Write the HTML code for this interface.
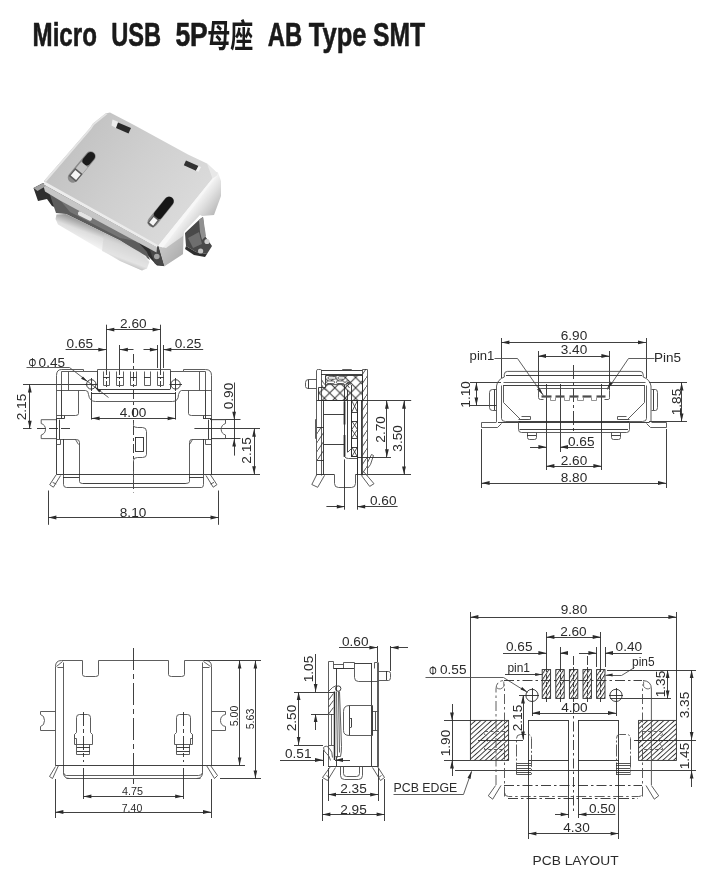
<!DOCTYPE html>
<html lang="zh"><head><meta charset="utf-8"><title>Micro USB 5P AB Type SMT</title>
<style>
html,body{margin:0;padding:0;background:#fff;}
body{width:715px;height:884px;overflow:hidden;font-family:"Liberation Sans","Noto Sans CJK SC",sans-serif;}
svg{display:block;filter:grayscale(1);}
</style></head><body>
<svg width="715" height="884" viewBox="0 0 715 884" font-family="Liberation Sans, Noto Sans CJK SC, sans-serif" stroke="#2b2b2b" fill="none" stroke-linecap="butt">
<rect x="0" y="0" width="715" height="884" fill="#ffffff" stroke="none"/>
<g id="title">
<text x="32.6" y="45.7" font-size="34" font-weight="bold" textLength="64.3" lengthAdjust="spacingAndGlyphs" fill="#1a1a1a" stroke="#1a1a1a" stroke-width="0.6" stroke-linejoin="round">Micro</text>
<text x="111.2" y="45.7" font-size="34" font-weight="bold" textLength="49.9" lengthAdjust="spacingAndGlyphs" fill="#1a1a1a" stroke="#1a1a1a" stroke-width="0.6" stroke-linejoin="round">USB</text>
<text x="175.4" y="45.7" font-size="34" font-weight="bold" textLength="32.4" lengthAdjust="spacingAndGlyphs" fill="#1a1a1a" stroke="#1a1a1a" stroke-width="0.6" stroke-linejoin="round">5P</text>
<text x="207.2" y="46.8" font-size="32" font-weight="700" textLength="46" lengthAdjust="spacingAndGlyphs" font-family="Liberation Sans, Noto Sans CJK SC, sans-serif" fill="#1a1a1a" stroke="none">母座</text>
<text x="267.8" y="45.7" font-size="34" font-weight="bold" textLength="34.4" lengthAdjust="spacingAndGlyphs" fill="#1a1a1a" stroke="#1a1a1a" stroke-width="0.6" stroke-linejoin="round">AB</text>
<text x="308.8" y="45.7" font-size="34" font-weight="bold" textLength="57.8" lengthAdjust="spacingAndGlyphs" fill="#1a1a1a" stroke="#1a1a1a" stroke-width="0.6" stroke-linejoin="round">Type</text>
<text x="373.0" y="45.7" font-size="34" font-weight="bold" textLength="52.2" lengthAdjust="spacingAndGlyphs" fill="#1a1a1a" stroke="#1a1a1a" stroke-width="0.6" stroke-linejoin="round">SMT</text>
</g>
<defs>
<filter id="pb" x="-5%" y="-5%" width="110%" height="110%"><feGaussianBlur stdDeviation="0.55"/></filter>
<linearGradient id="gtop" gradientUnits="userSpaceOnUse" x1="70" y1="140" x2="190" y2="230"><stop offset="0" stop-color="#c2c2c2"/><stop offset="0.45" stop-color="#cfcfcf"/><stop offset="1" stop-color="#dcdcdc"/></linearGradient>
<linearGradient id="gside" gradientUnits="userSpaceOnUse" x1="186" y1="212" x2="212" y2="232"><stop offset="0" stop-color="#f8f8f8"/><stop offset="0.3" stop-color="#e0e0e0"/><stop offset="0.7" stop-color="#bcbcbc"/><stop offset="1" stop-color="#9c9c9c"/></linearGradient>
<linearGradient id="gtong" gradientUnits="userSpaceOnUse" x1="100" y1="228" x2="91" y2="252"><stop offset="0" stop-color="#9c9c9c"/><stop offset="0.35" stop-color="#dedede"/><stop offset="0.8" stop-color="#f6f6f6"/><stop offset="1" stop-color="#b8b8b8"/></linearGradient>
</defs>
<g id="photo" filter="url(#pb)">
<polygon points="212.0,177.0 218.0,172.5 221.0,181.0 221.0,196.0 214.0,215.0 202.0,216.0 200.0,215.0 184.0,232.0 183.0,254.0 164.0,266.5 158.0,262.0 157.0,246.0" fill="url(#gside)" stroke="none" />
<polygon points="157.0,246.0 166.0,248.0 183.0,236.0 183.0,254.0 164.0,266.5 158.0,262.0" fill="#a6a6a6" stroke="none" opacity="0.6"/>
<polygon points="185.0,233.0 200.0,219.0 203.0,217.0 205.0,236.0 212.0,246.0 207.0,254.0 196.0,252.0 186.0,246.0" fill="#484848" stroke="none" />
<polygon points="199.0,220.0 203.0,217.0 206.0,236.0 202.0,240.0 200.0,232.0" fill="#909090" stroke="none" />
<polygon points="188.0,238.0 199.0,232.0 202.0,244.0 193.0,248.0" fill="#6e6e6e" stroke="none" />
<polygon points="186.0,246.0 196.0,252.0 207.0,254.0 205.0,257.0 194.0,255.0 185.0,249.0" fill="#2e2e2e" stroke="none" />
<circle cx="207" cy="241.5" r="2.6" fill="#cdcdcd" stroke="none"/>
<circle cx="200.6" cy="251" r="2.6" fill="#c4c4c4" stroke="none"/>
<polygon points="33.5,188.0 42.0,183.5 45.5,183.0 158.0,245.0 164.0,266.0 157.0,265.5 150.0,258.0 140.0,246.0 66.0,212.0 52.0,206.0 47.0,199.0 38.0,201.0" fill="#2e2e2e" stroke="none" />
<polygon points="49.0,192.0 136.0,240.0 147.0,252.0 150.0,260.0 120.0,240.5 66.0,214.0 56.0,213.0" fill="#5c5c5c" stroke="none" />
<polygon points="60.0,200.0 120.0,231.0 136.0,241.0 120.0,238.0 70.0,212.0" fill="#7a7a7a" stroke="none" opacity="0.8"/>
<line x1="80" y1="213.5" x2="90" y2="218.5" stroke="#e4e4e4" stroke-width="4.2" stroke-linecap="round"/>
<polygon points="56.5,214.6 66.0,214.0 120.0,240.5 146.0,256.0 149.5,262.0 147.0,268.5 142.0,270.5 120.0,261.0 58.0,224.5 55.5,219.0" fill="url(#gtong)" stroke="none" stroke="#a0a0a0" stroke-width="0.9"/>
<polygon points="104.0,234.0 140.0,252.0 149.0,262.0 147.0,268.5 141.0,270.0 102.0,251.0" fill="#cfcfcf" stroke="none" opacity="0.45"/>
<polygon points="148.0,244.5 158.0,246.0 164.0,266.0 155.0,264.0" fill="#474747" stroke="none" />
<circle cx="156.8" cy="256.5" r="2.8" fill="#a4a4a4" stroke="none"/>
<polygon points="105.5,113.5 110.0,112.6 134.0,125.0 188.0,154.5 207.0,163.5 215.5,171.5 212.5,178.5 158.0,246.0 45.5,183.5 44.0,181.0 90.0,128.0 93.0,123.5" fill="url(#gtop)" stroke="none" />
<polygon points="105.5,113.5 107.5,114.0 94.0,125.0 91.0,129.5 46.0,182.0 44.0,181.0 90.0,128.0 93.0,123.5" fill="#e4e4e4" stroke="none" />
<polygon points="212.5,178.5 217.0,175.5 163.0,247.5 158.0,246.0" fill="#f7f7f7" stroke="none" />
<polygon points="207.0,163.5 215.5,171.5 218.0,172.5 217.0,175.5 212.5,178.5" fill="#e8e8e8" stroke="none" />
<polygon points="43.0,184.3 157.0,247.3 156.5,252.5 60.0,200.5 45.0,191.5" fill="#c6c6c6" stroke="none" />
<polygon points="43.0,184.2 45.5,182.0 158.0,245.0 157.0,247.5" fill="#ececec" stroke="none" />
<polygon points="33.5,188.0 42.5,183.5 46.0,186.0 37.5,191.0" fill="#a0a0a0" stroke="none" />
<polygon points="112.5,119.5 118.5,122.0 116.0,128.0 111.5,125.5" fill="#ececec" stroke="none" />
<polygon points="118.0,122.5 131.0,128.0 128.5,133.5 116.0,128.0" fill="#2a2a2a" stroke="none" />
<polygon points="186.0,160.5 198.5,166.0 196.0,170.7 183.8,165.2" fill="#303030" stroke="none" />
<polygon points="198.5,166.0 201.0,167.0 198.5,171.8 196.0,170.7" fill="#efefef" stroke="none" />
<line x1="90.5" y1="156.5" x2="73" y2="177.5" stroke="#8a8a8a" stroke-width="10.5" stroke-linecap="round"/>
<line x1="90.8" y1="156.2" x2="86.6" y2="161.3" stroke="#1f1f1f" stroke-width="8.6" stroke-linecap="round"/>
<line x1="84.5" y1="164.5" x2="75" y2="176" stroke="#c4c4c4" stroke-width="8.4" stroke-linecap="butt"/>
<line x1="79" y1="171" x2="72.4" y2="179" stroke="#5a5a5a" stroke-width="9.4" stroke-linecap="butt"/>
<line x1="78" y1="172.3" x2="73.4" y2="177.8" stroke="#f4f4f4" stroke-width="7" stroke-linecap="butt"/>
<line x1="169" y1="201.5" x2="152.5" y2="222" stroke="#8a8a8a" stroke-width="10" stroke-linecap="round"/>
<line x1="169.2" y1="201.2" x2="158.2" y2="214.8" stroke="#161616" stroke-width="9" stroke-linecap="round"/>
<line x1="156.6" y1="217.5" x2="150.2" y2="225.3" stroke="#5a5a5a" stroke-width="7.4" stroke-linecap="butt"/>
<line x1="155.6" y1="218.7" x2="151.2" y2="224.1" stroke="#f6f6f6" stroke-width="5" stroke-linecap="butt"/>
</g>
<defs>
<pattern id="xh" x="2" y="3" width="10.4" height="10.4" patternUnits="userSpaceOnUse"><path d="M0 0 L10.4 10.4 M10.4 0 L0 10.4" stroke="#2b2b2b" stroke-width="0.95"/></pattern>
<pattern id="dh" width="6" height="9" patternUnits="userSpaceOnUse"><path d="M-1 10.5 L7 -1.5" stroke="#2b2b2b" stroke-width="0.8"/></pattern>
<pattern id="ph" width="3.6" height="3.6" patternUnits="userSpaceOnUse" patternTransform="rotate(48)"><line x1="0.5" y1="0" x2="0.5" y2="3.6" stroke="#2b2b2b" stroke-width="0.9"/></pattern>
<pattern id="ph2" width="3.1" height="3.1" patternUnits="userSpaceOnUse" patternTransform="rotate(33)"><line x1="0.5" y1="0" x2="0.5" y2="3.1" stroke="#2b2b2b" stroke-width="0.9"/></pattern>
</defs>
<g id="v2">
<path d="M316.5 475.5 V370.5 Q316.5 369.5 318.5 369.5 H320.5 Q321.5 369.5 321.5 370.5 V475.5" stroke-width="0.9" fill="none" stroke="#4c4c4c"/>
<path d="M362.5 475.5 V369.5 H367.5 V475.5" stroke-width="0.9" fill="none" stroke="#4c4c4c"/>
<rect x="362.3" y="369" width="4.9" height="106" fill="url(#dh)" stroke="none"/>
<line x1="321.0" y1="370.5" x2="362.3" y2="370.5" stroke-width="0.9"/>
<line x1="321.0" y1="374.5" x2="362.3" y2="374.5" stroke-width="0.9"/>
<path d="M342.5 370.5 V369.5 H351.5 V370.5" stroke-width="0.9" fill="none" stroke="#4c4c4c"/>
<path d="M325.5 375.5 H362.5 V400.5 H318.5 V387.5 H325.5 Z" fill="url(#xh)" stroke="#2b2b2b" stroke-width="0.9"/>
<rect x="328" y="376.7" width="8" height="2.5" rx="1.25" fill="#fff" stroke="#2b2b2b" stroke-width="0.7"/>
<rect x="338" y="376.7" width="7" height="2.5" rx="1.25" fill="#fff" stroke="#2b2b2b" stroke-width="0.7"/>
<rect x="326.6" y="381" width="8" height="2.5" rx="1.25" fill="#fff" stroke="#2b2b2b" stroke-width="0.7"/>
<rect x="336.4" y="381" width="8" height="2.5" rx="1.25" fill="#fff" stroke="#2b2b2b" stroke-width="0.7"/>
<rect x="345.6" y="381" width="4" height="2.5" rx="1.25" fill="#fff" stroke="#2b2b2b" stroke-width="0.7"/>
<path d="M325.5 384.6 H345 Q348.5 385 349.5 388" stroke-width="0.9" fill="none" stroke="#4c4c4c"/>
<rect x="351.5" y="400.5" width="6.0" height="56.0" rx="0" stroke-width="0.9" fill="none"/>
<line x1="351.8" y1="400.5" x2="357.4" y2="400.5" stroke-width="0.9"/>
<line x1="351.8" y1="412.5" x2="357.4" y2="412.5" stroke-width="0.9"/>
<line x1="351.8" y1="400.7" x2="357.4" y2="412.0" stroke-width="0.8"/>
<line x1="357.4" y1="400.7" x2="351.8" y2="412.0" stroke-width="0.8"/>
<line x1="351.8" y1="421.5" x2="357.4" y2="421.5" stroke-width="0.9"/>
<line x1="351.8" y1="438.5" x2="357.4" y2="438.5" stroke-width="0.9"/>
<line x1="351.8" y1="421.0" x2="357.4" y2="429.5" stroke-width="0.8"/>
<line x1="357.4" y1="421.0" x2="351.8" y2="429.5" stroke-width="0.8"/>
<line x1="351.8" y1="429.5" x2="357.4" y2="438.0" stroke-width="0.8"/>
<line x1="357.4" y1="429.5" x2="351.8" y2="438.0" stroke-width="0.8"/>
<line x1="351.8" y1="447.5" x2="357.4" y2="447.5" stroke-width="0.9"/>
<line x1="351.8" y1="456.5" x2="357.4" y2="456.5" stroke-width="0.9"/>
<line x1="351.8" y1="447.0" x2="357.4" y2="456.8" stroke-width="0.8"/>
<line x1="357.4" y1="447.0" x2="351.8" y2="456.8" stroke-width="0.8"/>
<path d="M316.5 379.5 H308.5 Q305.5 379.5 305.5 382.5 V386.5 Q305.5 388.5 308.5 388.5 H316.5" stroke-width="0.9" fill="none" stroke="#4c4c4c"/>
<line x1="308.5" y1="379.6" x2="308.5" y2="388.8" stroke-width="0.9"/>
<path d="M321.5 379.5 Q323.5 384.5 326.5 385.5 M321.5 384.5 Q323.5 389.5 326.5 390.5" stroke-width="0.9" fill="none" stroke="#4c4c4c"/>
<line x1="316.7" y1="400.5" x2="346.0" y2="400.5" stroke-width="0.9"/>
<line x1="323.5" y1="400.7" x2="323.5" y2="475.0" stroke-width="0.9"/>
<line x1="323.8" y1="414.5" x2="344.8" y2="414.5" stroke-width="0.9"/>
<line x1="323.8" y1="444.5" x2="344.8" y2="444.5" stroke-width="0.9"/>
<line x1="344.5" y1="401.4" x2="344.5" y2="424.5" stroke-width="1.8"/>
<line x1="344.5" y1="435.0" x2="344.5" y2="456.8" stroke-width="1.8"/>
<line x1="344.5" y1="385.0" x2="344.5" y2="457.0" stroke-width="0.9"/>
<line x1="347.5" y1="390.0" x2="347.5" y2="452.0" stroke-width="0.9"/>
<line x1="351.5" y1="385.0" x2="351.5" y2="456.8" stroke-width="0.9"/>
<path d="M346.5 384.5 Q348.5 380.5 350.5 384.5" stroke-width="1.3" fill="none" stroke="#4c4c4c"/>
<path d="M344.5 456.5 Q345.5 458.5 348.5 458.5 H357.5" stroke-width="0.9" fill="none" stroke="#4c4c4c"/>
<path d="M347.5 452.5 L351.5 448.5" stroke-width="0.9" fill="none" stroke="#4c4c4c"/>
<line x1="357.5" y1="400.7" x2="357.5" y2="475.0" stroke-width="0.9"/>
<line x1="361.5" y1="400.7" x2="361.5" y2="475.0" stroke-width="0.9"/>
<rect x="317" y="427.3" width="6.8" height="33" fill="url(#dh)" stroke="none"/>
<line x1="317.0" y1="427.5" x2="323.8" y2="427.5" stroke-width="0.9"/>
<line x1="317.0" y1="460.5" x2="323.8" y2="460.5" stroke-width="0.9"/>
<path d="M316.5 419.5 H315.5 V438.5 H316.5" stroke-width="0.9" fill="none" stroke="#4c4c4c"/>
<line x1="316.7" y1="474.5" x2="334.4" y2="474.5" stroke-width="0.9"/>
<line x1="355.4" y1="474.5" x2="367.2" y2="474.5" stroke-width="0.9"/>
<path d="M334.5 474.5 V483.5 Q334.5 487.5 338.5 487.5 H351.5 Q355.5 487.5 355.5 483.5 V474.5" stroke-width="0.9" fill="none" stroke="#4c4c4c"/>
<path d="M316.8 474.5 L311.8 484.5 L317.7 487.3 L324.6 475.3" stroke-width="0.9" fill="none" stroke="#4c4c4c"/>
<path d="M361.3 475.3 L369.7 486.4 L374 483.7 L363.5 471.5" stroke-width="0.9" fill="none" stroke="#4c4c4c"/>
<path d="M367.5 462.5 L371.5 454.5 L373.5 455.5 L370.5 464.5 L367.5 468.5" stroke-width="0.9" fill="none" stroke="#4c4c4c"/>
<line x1="361.0" y1="400.5" x2="411.2" y2="400.5" stroke-width="0.9"/>
<line x1="358.0" y1="457.5" x2="391.0" y2="457.5" stroke-width="0.9"/>
<line x1="368.0" y1="474.5" x2="411.0" y2="474.5" stroke-width="0.9"/>
<line x1="386.5" y1="400.7" x2="386.5" y2="457.2" stroke-width="0.9"/>
<polygon points="386.9,400.7 388.8,408.7 385.0,408.7" fill="#2b2b2b" stroke="none"/>
<polygon points="386.9,457.2 385.0,449.2 388.8,449.2" fill="#2b2b2b" stroke="none"/>
<line x1="404.5" y1="400.7" x2="404.5" y2="474.6" stroke-width="0.9"/>
<polygon points="404.0,400.7 405.9,408.7 402.1,408.7" fill="#2b2b2b" stroke="none"/>
<polygon points="404.0,474.6 402.1,466.6 405.9,466.6" fill="#2b2b2b" stroke="none"/>
<text x="385.5" y="429.4" font-size="13.6" text-anchor="middle" textLength="26.5" lengthAdjust="spacingAndGlyphs" transform="rotate(-90 385.5 429.4)" fill="#2b2b2b" stroke="none">2.70</text>
<text x="402.5" y="438.4" font-size="13.6" text-anchor="middle" textLength="26.5" lengthAdjust="spacingAndGlyphs" transform="rotate(-90 402.5 438.4)" fill="#2b2b2b" stroke="none">3.50</text>
<line x1="344.5" y1="459.4" x2="344.5" y2="509.7" stroke-width="0.9"/>
<line x1="357.5" y1="457.0" x2="357.5" y2="509.7" stroke-width="0.9"/>
<line x1="326.4" y1="506.5" x2="344.8" y2="506.5" stroke-width="0.9"/>
<polygon points="344.8,506.7 336.8,508.6 336.8,504.8" fill="#2b2b2b" stroke="none"/>
<polygon points="357.2,506.7 365.2,504.8 365.2,508.6" fill="#2b2b2b" stroke="none"/>
<line x1="357.2" y1="506.5" x2="397.6" y2="506.5" stroke-width="0.9"/>
<text x="370.0" y="504.7" font-size="13.6" textLength="26.5" lengthAdjust="spacingAndGlyphs" fill="#2b2b2b" stroke="none">0.60</text>
</g>
<g id="v3">
<text x="574.0" y="340.4" font-size="13.6" text-anchor="middle" textLength="26.5" lengthAdjust="spacingAndGlyphs" fill="#2b2b2b" stroke="none">6.90</text>
<line x1="501.4" y1="342.5" x2="646.0" y2="342.5" stroke-width="0.9"/>
<polygon points="501.4,342.4 509.4,340.5 509.4,344.2" fill="#2b2b2b" stroke="none"/>
<polygon points="646.0,342.4 638.0,344.2 638.0,340.5" fill="#2b2b2b" stroke="none"/>
<line x1="501.5" y1="338.0" x2="501.5" y2="378.0" stroke-width="0.9"/>
<line x1="646.5" y1="338.0" x2="646.5" y2="378.0" stroke-width="0.9"/>
<text x="574.0" y="354.2" font-size="13.6" text-anchor="middle" textLength="26.5" lengthAdjust="spacingAndGlyphs" fill="#2b2b2b" stroke="none">3.40</text>
<line x1="538.0" y1="356.5" x2="609.4" y2="356.5" stroke-width="0.9"/>
<polygon points="538.0,356.0 546.0,354.1 546.0,357.9" fill="#2b2b2b" stroke="none"/>
<polygon points="609.4,356.0 601.4,357.9 601.4,354.1" fill="#2b2b2b" stroke="none"/>
<line x1="538.5" y1="351.0" x2="538.5" y2="390.0" stroke-width="0.9"/>
<line x1="609.5" y1="351.0" x2="609.5" y2="390.0" stroke-width="0.9"/>
<text x="469.6" y="360.0" font-size="13.6" textLength="24.8" lengthAdjust="spacingAndGlyphs" fill="#2b2b2b" stroke="none">pin1</text>
<path d="M494.5 358.5 H517.5 L543.5 395.5" stroke-width="0.9" fill="none" stroke="#4c4c4c"/>
<polygon points="543.0,395.0 537.1,389.4 539.7,387.5" fill="#2b2b2b" stroke="none"/>
<text x="654.0" y="361.6" font-size="13.6" textLength="27.0" lengthAdjust="spacingAndGlyphs" fill="#2b2b2b" stroke="none">Pin5</text>
<path d="M654.5 358.5 H628.5 L607.5 389.5" stroke-width="0.9" fill="none" stroke="#4c4c4c"/>
<polygon points="607.0,389.0 610.1,381.5 612.8,383.3" fill="#2b2b2b" stroke="none"/>
<line x1="470.0" y1="382.5" x2="501.0" y2="382.5" stroke-width="0.9"/>
<line x1="470.0" y1="405.5" x2="497.0" y2="405.5" stroke-width="0.9"/>
<line x1="476.5" y1="382.4" x2="476.5" y2="405.4" stroke-width="0.9"/>
<polygon points="476.4,382.4 478.2,390.4 474.5,390.4" fill="#2b2b2b" stroke="none"/>
<polygon points="476.4,405.4 474.5,397.4 478.2,397.4" fill="#2b2b2b" stroke="none"/>
<text x="469.9" y="394.4" font-size="13.6" text-anchor="middle" textLength="26.5" lengthAdjust="spacingAndGlyphs" transform="rotate(-90 469.9 394.4)" fill="#2b2b2b" stroke="none">1.10</text>
<line x1="649.0" y1="382.5" x2="687.0" y2="382.5" stroke-width="0.9"/>
<line x1="649.0" y1="421.5" x2="687.0" y2="421.5" stroke-width="0.9"/>
<line x1="681.5" y1="382.4" x2="681.5" y2="421.6" stroke-width="0.9"/>
<polygon points="681.6,382.4 683.5,390.4 679.8,390.4" fill="#2b2b2b" stroke="none"/>
<polygon points="681.6,421.6 679.8,413.6 683.5,413.6" fill="#2b2b2b" stroke="none"/>
<text x="680.5" y="402.0" font-size="13.6" text-anchor="middle" textLength="26.5" lengthAdjust="spacingAndGlyphs" transform="rotate(-90 680.5 402.0)" fill="#2b2b2b" stroke="none">1.85</text>
<line x1="481.5" y1="429.0" x2="481.5" y2="488.0" stroke-width="0.9"/>
<line x1="666.5" y1="429.0" x2="666.5" y2="488.0" stroke-width="0.9"/>
<line x1="481.6" y1="483.5" x2="666.0" y2="483.5" stroke-width="0.9"/>
<polygon points="481.6,483.0 489.6,481.1 489.6,484.9" fill="#2b2b2b" stroke="none"/>
<polygon points="666.0,483.0 658.0,484.9 658.0,481.1" fill="#2b2b2b" stroke="none"/>
<text x="574.0" y="481.9" font-size="13.6" text-anchor="middle" textLength="26.5" lengthAdjust="spacingAndGlyphs" fill="#2b2b2b" stroke="none">8.80</text>
<line x1="546.5" y1="384.0" x2="546.5" y2="470.0" stroke-width="0.9"/>
<line x1="601.5" y1="384.0" x2="601.5" y2="470.0" stroke-width="0.9"/>
<line x1="546.4" y1="466.5" x2="601.4" y2="466.5" stroke-width="0.9"/>
<polygon points="546.4,466.0 554.4,464.1 554.4,467.9" fill="#2b2b2b" stroke="none"/>
<polygon points="601.4,466.0 593.4,467.9 593.4,464.1" fill="#2b2b2b" stroke="none"/>
<text x="574.0" y="465.2" font-size="13.6" text-anchor="middle" textLength="26.5" lengthAdjust="spacingAndGlyphs" fill="#2b2b2b" stroke="none">2.60</text>
<line x1="530.0" y1="447.5" x2="546.4" y2="447.5" stroke-width="0.9"/>
<polygon points="546.4,447.0 538.4,448.9 538.4,445.1" fill="#2b2b2b" stroke="none"/>
<polygon points="560.0,447.0 568.0,445.1 568.0,448.9" fill="#2b2b2b" stroke="none"/>
<line x1="560.0" y1="447.5" x2="594.0" y2="447.5" stroke-width="0.9"/>
<text x="568.0" y="445.6" font-size="13.6" textLength="26.5" lengthAdjust="spacingAndGlyphs" fill="#2b2b2b" stroke="none">0.65</text>
<line x1="560.5" y1="384.0" x2="560.5" y2="452.0" stroke-width="0.9"/>
<line x1="573.5" y1="365.0" x2="573.5" y2="432.0" stroke-width="0.9" stroke-dasharray="14 3 3 3"/>
<path d="M507.5 371.4 H640 Q643.2 371.4 643.2 374.5 V377 Q650 379.5 651 386 V421.9" stroke-width="0.9" fill="none" stroke="#4c4c4c"/>
<path d="M507.5 371.4 Q504.3 371.4 504.3 374.5 V377 Q497.5 379.5 496.5 386 V421.9" stroke-width="0.9" fill="none" stroke="#4c4c4c"/>
<line x1="506.0" y1="375.5" x2="642.0" y2="375.5" stroke-width="0.9"/>
<path d="M503.5 382.5 H645.5" stroke-width="0.9" fill="none" stroke="#4c4c4c"/>
<line x1="503.0" y1="385.5" x2="645.0" y2="385.5" stroke-width="0.9"/>
<path d="M501.5 385.5 V418.5 Q501.5 421.5 505.5 421.5 H520.5" stroke-width="0.9" fill="none" stroke="#4c4c4c"/>
<path d="M646.5 385.5 V418.5 Q646.5 421.5 642.5 421.5 H627.5" stroke-width="0.9" fill="none" stroke="#4c4c4c"/>
<path d="M503.5 385.5 V402.5 L520.5 419.5 H528.5" stroke-width="0.9" fill="none" stroke="#4c4c4c"/>
<path d="M644.5 385.5 V402.5 L627.5 419.5 H619.5" stroke-width="0.9" fill="none" stroke="#4c4c4c"/>
<path d="M518.5 419.5 H530.5 V416.5 H521.5" stroke-width="0.9" fill="none" stroke="#4c4c4c"/>
<path d="M629.5 419.5 H617.5 V416.5 H626.5" stroke-width="0.9" fill="none" stroke="#4c4c4c"/>
<path d="M496.5 389.5 H492.5 Q489.5 389.5 489.5 392.5 V407.5 Q489.5 410.5 492.5 410.5 H496.5" stroke-width="0.9" fill="none" stroke="#4c4c4c"/>
<line x1="494.5" y1="389.5" x2="494.5" y2="410.0" stroke-width="0.9"/>
<path d="M651.5 389.5 H655.5 Q657.5 389.5 657.5 392.5 V407.5 Q657.5 410.5 655.5 410.5 H651.5" stroke-width="0.9" fill="none" stroke="#4c4c4c"/>
<line x1="653.5" y1="389.5" x2="653.5" y2="410.0" stroke-width="0.9"/>
<path d="M496.5 422.5 H481.5 V427.5 H497.5 L501.5 423.5" stroke-width="0.9" fill="none" stroke="#4c4c4c"/>
<path d="M651.5 422.5 H666.5 V427.5 H650.5 L646.5 423.5" stroke-width="0.9" fill="none" stroke="#4c4c4c"/>
<line x1="518.6" y1="421.5" x2="629.0" y2="421.5" stroke-width="0.9"/>
<line x1="498.0" y1="422.5" x2="649.5" y2="422.5" stroke-width="0.9"/>
<path d="M518.5 421.5 V429.5 Q518.5 432.5 521.5 432.5 H626.5 Q629.5 432.5 629.5 429.5 V421.5" stroke-width="0.9" fill="none" stroke="#4c4c4c"/>
<line x1="519.5" y1="429.5" x2="628.0" y2="429.5" stroke-width="0.9"/>
<path d="M527.5 432.5 V437.5 Q527.5 439.5 529.5 439.5 H534.5 Q536.5 439.5 536.5 437.5 V432.5" stroke-width="0.9" fill="none" stroke="#4c4c4c"/>
<path d="M611.5 432.5 V437.5 Q611.5 439.5 613.5 439.5 H618.5 Q620.5 439.5 620.5 437.5 V432.5" stroke-width="0.9" fill="none" stroke="#4c4c4c"/>
<line x1="527.0" y1="435.5" x2="536.0" y2="435.5" stroke-width="0.9"/>
<line x1="611.5" y1="435.5" x2="620.5" y2="435.5" stroke-width="0.9"/>
<path d="M609.5 388.5 H540.5 Q538.5 388.5 538.5 390.5 V397.5 Q538.5 399.5 540.5 399.5 H543.5" stroke-width="0.9" fill="none" stroke="#4c4c4c"/>
<path d="M609.5 388.5 Q609.5 388.5 609.5 390.5 V397.5 Q609.5 399.5 608.5 399.5 H604.5" stroke-width="0.9" fill="none" stroke="#4c4c4c"/>
<path d="M541.5 396.5 H551.5" stroke-width="2.2" fill="none" stroke="#4c4c4c"/>
<path d="M555.5 396.5 H564.5" stroke-width="2.2" fill="none" stroke="#4c4c4c"/>
<path d="M569.5 396.5 H578.5" stroke-width="2.2" fill="none" stroke="#4c4c4c"/>
<path d="M582.5 396.5 H591.5" stroke-width="2.2" fill="none" stroke="#4c4c4c"/>
<path d="M596.5 396.5 H605.5" stroke-width="2.2" fill="none" stroke="#4c4c4c"/>
<path d="M550.5 397.5 V400.5 H555.5 V397.5" stroke-width="0.8" fill="none" stroke="#777"/>
<path d="M564.5 397.5 V400.5 H569.5 V397.5" stroke-width="0.8" fill="none" stroke="#777"/>
<path d="M577.5 397.5 V400.5 H583.5 V397.5" stroke-width="0.8" fill="none" stroke="#777"/>
<path d="M591.5 397.5 V400.5 H596.5 V397.5" stroke-width="0.8" fill="none" stroke="#777"/>
</g>
<g id="v4">
<path d="M55.5 765.5 V666.5 Q55.5 660.5 61.5 660.5 H82.5 V674.5 Q82.5 676.5 85.5 676.5 H95.5 Q98.5 676.5 98.5 674.5 V660.5 H168.5 V674.5 Q168.5 676.5 171.5 676.5 H181.5 Q184.5 676.5 184.5 674.5 V660.5 H205.5 Q211.5 660.5 211.5 666.5 V765.5" stroke-width="0.9" fill="none" stroke="#4c4c4c"/>
<path d="M63.5 662.5 V772.5 Q63.5 775.5 66.5 775.5 H198.5 Q202.5 775.5 202.5 772.5 V662.5" stroke-width="0.9" fill="none" stroke="#4c4c4c"/>
<path d="M56.5 666.5 L62.5 661.5 M63.5 667.5 H57.5" stroke-width="0.9" fill="none" stroke="#4c4c4c"/>
<path d="M210.5 666.5 L203.5 661.5 M202.5 667.5 H209.5" stroke-width="0.9" fill="none" stroke="#4c4c4c"/>
<line x1="55.4" y1="765.5" x2="211.0" y2="765.5" stroke-width="0.9"/>
<path d="M66.5 778.5 H200.5" stroke-width="0.9" fill="none" stroke="#4c4c4c"/>
<path d="M63.5 772.5 Q63.5 778.5 69.5 778.5 M202.5 772.5 Q202.5 778.5 196.5 778.5" stroke-width="0.9" fill="none" stroke="#4c4c4c"/>
<path d="M55.5 711.5 H40.5 V714.5 Q44.5 715.5 44.5 720.5 Q44.5 725.5 40.5 726.5 V730.5 H55.5" stroke-width="0.9" fill="none" stroke="#4c4c4c"/>
<path d="M211.5 711.5 H225.5 V714.5 Q220.5 715.5 220.5 720.5 Q220.5 725.5 225.5 726.5 V730.5 H211.5" stroke-width="0.9" fill="none" stroke="#4c4c4c"/>
<path d="M76.5 732.5 V717.5 Q76.5 714.5 79.5 714.5 H87.5 Q90.5 714.5 90.5 717.5 V732.5" stroke-width="0.9" fill="none" stroke="#4c4c4c"/>
<path d="M76.5 732.5 L74.5 734.5 V744.5 H92.5 V734.5 L90.5 732.5" stroke-width="0.9" fill="none" stroke="#4c4c4c"/>
<path d="M76.5 744.5 V754.5 H89.5 V744.5" stroke-width="0.9" fill="none" stroke="#4c4c4c"/>
<line x1="76.9" y1="747.5" x2="89.9" y2="747.5" stroke-width="0.9"/>
<line x1="76.9" y1="751.5" x2="89.9" y2="751.5" stroke-width="0.9"/>
<line x1="83.5" y1="712.0" x2="83.5" y2="762.0" stroke-width="0.9" stroke-dasharray="14 3 4 3"/>
<line x1="83.5" y1="768.0" x2="83.5" y2="799.0" stroke-width="0.9"/>
<path d="M176.5 732.5 V717.5 Q176.5 714.5 179.5 714.5 H187.5 Q190.5 714.5 190.5 717.5 V732.5" stroke-width="0.9" fill="none" stroke="#4c4c4c"/>
<path d="M176.5 732.5 L174.5 734.5 V744.5 H192.5 V734.5 L190.5 732.5" stroke-width="0.9" fill="none" stroke="#4c4c4c"/>
<path d="M176.5 744.5 V754.5 H189.5 V744.5" stroke-width="0.9" fill="none" stroke="#4c4c4c"/>
<line x1="176.7" y1="747.5" x2="189.7" y2="747.5" stroke-width="0.9"/>
<line x1="176.7" y1="751.5" x2="189.7" y2="751.5" stroke-width="0.9"/>
<line x1="183.5" y1="712.0" x2="183.5" y2="762.0" stroke-width="0.9" stroke-dasharray="14 3 4 3"/>
<line x1="183.5" y1="768.0" x2="183.5" y2="799.0" stroke-width="0.9"/>
<path d="M74.5 734.5 V738.5 H76.5 V744.5" stroke-width="0.9" fill="none" stroke="#4c4c4c"/>
<path d="M192.5 734.5 V738.5 H190.5 V744.5" stroke-width="0.9" fill="none" stroke="#4c4c4c"/>
<line x1="133.5" y1="648.0" x2="133.5" y2="784.0" stroke-width="0.9" stroke-dasharray="22 4 5 4"/>
<path d="M58.5 765.5 L52.5 778.5 L49.5 776.5 L55.5 766.5" stroke-width="0.9" fill="none" stroke="#4c4c4c"/>
<path d="M206.5 765.5 L214.5 778.5 L217.5 775.5 L210.5 765.5" stroke-width="0.9" fill="none" stroke="#4c4c4c"/>
<line x1="83.4" y1="796.5" x2="183.2" y2="796.5" stroke-width="0.9"/>
<polygon points="83.4,796.4 91.4,794.5 91.4,798.2" fill="#2b2b2b" stroke="none"/>
<polygon points="183.2,796.4 175.2,798.2 175.2,794.5" fill="#2b2b2b" stroke="none"/>
<text x="132.5" y="794.8" font-size="10.5" text-anchor="middle" textLength="21.0" lengthAdjust="spacingAndGlyphs" fill="#2b2b2b" stroke="none">4.75</text>
<line x1="55.5" y1="779.0" x2="55.5" y2="818.0" stroke-width="0.9"/>
<line x1="211.5" y1="779.0" x2="211.5" y2="818.0" stroke-width="0.9"/>
<line x1="55.4" y1="812.5" x2="211.0" y2="812.5" stroke-width="0.9"/>
<polygon points="55.4,812.0 63.4,810.1 63.4,813.9" fill="#2b2b2b" stroke="none"/>
<polygon points="211.0,812.0 203.0,813.9 203.0,810.1" fill="#2b2b2b" stroke="none"/>
<text x="132.0" y="812.0" font-size="10.5" text-anchor="middle" textLength="20.5" lengthAdjust="spacingAndGlyphs" fill="#2b2b2b" stroke="none">7.40</text>
<line x1="204.0" y1="660.5" x2="261.0" y2="660.5" stroke-width="0.9"/>
<line x1="211.0" y1="765.5" x2="245.0" y2="765.5" stroke-width="0.9"/>
<line x1="220.0" y1="778.5" x2="261.0" y2="778.5" stroke-width="0.9"/>
<line x1="239.5" y1="660.4" x2="239.5" y2="765.6" stroke-width="0.9"/>
<polygon points="239.6,660.4 241.4,668.4 237.8,668.4" fill="#2b2b2b" stroke="none"/>
<polygon points="239.6,765.6 237.8,757.6 241.4,757.6" fill="#2b2b2b" stroke="none"/>
<line x1="255.5" y1="660.4" x2="255.5" y2="778.4" stroke-width="0.9"/>
<polygon points="255.4,660.4 257.2,668.4 253.6,668.4" fill="#2b2b2b" stroke="none"/>
<polygon points="255.4,778.4 253.6,770.4 257.2,770.4" fill="#2b2b2b" stroke="none"/>
<text x="238.4" y="716.0" font-size="10.5" text-anchor="middle" textLength="20.5" lengthAdjust="spacingAndGlyphs" transform="rotate(-90 238.4 716.0)" fill="#2b2b2b" stroke="none">5.00</text>
<text x="254.0" y="719.0" font-size="10.5" text-anchor="middle" textLength="20.5" lengthAdjust="spacingAndGlyphs" transform="rotate(-90 254.0 719.0)" fill="#2b2b2b" stroke="none">5.63</text>
</g>
<g id="v5">
<text x="342.0" y="645.6" font-size="13.6" textLength="26.5" lengthAdjust="spacingAndGlyphs" fill="#2b2b2b" stroke="none">0.60</text>
<line x1="339.0" y1="647.5" x2="377.4" y2="647.5" stroke-width="0.9"/>
<polygon points="377.4,647.6 369.4,649.5 369.4,645.8" fill="#2b2b2b" stroke="none"/>
<polygon points="390.6,647.6 398.6,645.8 398.6,649.5" fill="#2b2b2b" stroke="none"/>
<line x1="390.6" y1="647.5" x2="408.0" y2="647.5" stroke-width="0.9"/>
<line x1="377.5" y1="646.0" x2="377.5" y2="662.0" stroke-width="0.9"/>
<line x1="390.5" y1="646.0" x2="390.5" y2="671.0" stroke-width="0.9"/>
<line x1="315.5" y1="654.0" x2="315.5" y2="692.0" stroke-width="0.9"/>
<polygon points="315.6,692.0 313.8,684.0 317.5,684.0" fill="#2b2b2b" stroke="none"/>
<polygon points="315.6,714.0 317.5,722.0 313.8,722.0" fill="#2b2b2b" stroke="none"/>
<line x1="315.5" y1="714.0" x2="315.5" y2="730.0" stroke-width="0.9"/>
<line x1="294.0" y1="692.5" x2="335.0" y2="692.5" stroke-width="0.9"/>
<line x1="311.0" y1="714.5" x2="328.0" y2="714.5" stroke-width="0.9"/>
<text x="312.9" y="669.0" font-size="13.6" text-anchor="middle" textLength="26.5" lengthAdjust="spacingAndGlyphs" transform="rotate(-90 312.9 669.0)" fill="#2b2b2b" stroke="none">1.05</text>
<line x1="298.5" y1="692.0" x2="298.5" y2="745.0" stroke-width="0.9"/>
<polygon points="298.6,692.0 300.5,700.0 296.8,700.0" fill="#2b2b2b" stroke="none"/>
<polygon points="298.6,745.0 296.8,737.0 300.5,737.0" fill="#2b2b2b" stroke="none"/>
<line x1="294.0" y1="745.5" x2="323.0" y2="745.5" stroke-width="0.9"/>
<text x="295.9" y="718.0" font-size="13.6" text-anchor="middle" textLength="26.5" lengthAdjust="spacingAndGlyphs" transform="rotate(-90 295.9 718.0)" fill="#2b2b2b" stroke="none">2.50</text>
<text x="285.0" y="758.0" font-size="13.6" textLength="26.5" lengthAdjust="spacingAndGlyphs" fill="#2b2b2b" stroke="none">0.51</text>
<line x1="280.0" y1="760.5" x2="323.0" y2="760.5" stroke-width="0.9"/>
<polygon points="323.0,760.0 315.0,761.9 315.0,758.1" fill="#2b2b2b" stroke="none"/>
<polygon points="335.0,760.0 343.0,758.1 343.0,761.9" fill="#2b2b2b" stroke="none"/>
<line x1="335.0" y1="760.5" x2="350.0" y2="760.5" stroke-width="0.9"/>
<line x1="323.5" y1="750.0" x2="323.5" y2="766.0" stroke-width="0.9"/>
<line x1="328.5" y1="768.0" x2="328.5" y2="801.0" stroke-width="0.9"/>
<line x1="378.5" y1="768.0" x2="378.5" y2="801.0" stroke-width="0.9"/>
<line x1="328.0" y1="794.5" x2="378.2" y2="794.5" stroke-width="0.9"/>
<polygon points="328.0,794.6 336.0,792.8 336.0,796.5" fill="#2b2b2b" stroke="none"/>
<polygon points="378.2,794.6 370.2,796.5 370.2,792.8" fill="#2b2b2b" stroke="none"/>
<text x="353.5" y="793.2" font-size="13.6" text-anchor="middle" textLength="26.5" lengthAdjust="spacingAndGlyphs" fill="#2b2b2b" stroke="none">2.35</text>
<line x1="322.5" y1="779.0" x2="322.5" y2="821.0" stroke-width="0.9"/>
<line x1="384.5" y1="779.0" x2="384.5" y2="821.0" stroke-width="0.9"/>
<line x1="322.4" y1="814.5" x2="384.6" y2="814.5" stroke-width="0.9"/>
<polygon points="322.4,814.4 330.4,812.5 330.4,816.2" fill="#2b2b2b" stroke="none"/>
<polygon points="384.6,814.4 376.6,816.2 376.6,812.5" fill="#2b2b2b" stroke="none"/>
<text x="353.5" y="813.5" font-size="13.6" text-anchor="middle" textLength="26.5" lengthAdjust="spacingAndGlyphs" fill="#2b2b2b" stroke="none">2.95</text>
<path d="M328.5 766.5 V661.5 H333.5 V668.5 H343.5 V662.5 H354.5 V668.5" stroke-width="0.9" fill="none" stroke="#4c4c4c"/>
<line x1="333.5" y1="668.5" x2="354.5" y2="668.5" stroke-width="0.9"/>
<line x1="354.5" y1="663.5" x2="372.0" y2="663.5" stroke-width="0.9"/>
<path d="M333.5 664.5 H343.5" stroke-width="0.9" fill="none" stroke="#4c4c4c"/>
<line x1="336.5" y1="668.0" x2="336.5" y2="691.0" stroke-width="0.9"/>
<line x1="336.5" y1="757.0" x2="336.5" y2="766.0" stroke-width="0.9"/>
<path d="M354.5 668.5 V677.5 Q354.5 681.5 358.5 681.5 H378.5" stroke-width="0.9" fill="none" stroke="#4c4c4c"/>
<path d="M377.5 662.5 H374.5 V668.5 M377.5 662.5 V766.5" stroke-width="0.9" fill="none" stroke="#4c4c4c"/>
<path d="M378.5 662.5 V766.5" stroke-width="0.9" fill="none" stroke="#4c4c4c"/>
<line x1="371.5" y1="663.2" x2="371.5" y2="766.0" stroke-width="0.9"/>
<path d="M378.5 671.5 H388.5 Q390.5 671.5 390.5 673.5 V677.5 Q390.5 680.5 388.5 680.5 H378.5" stroke-width="0.9" fill="none" stroke="#4c4c4c"/>
<line x1="386.5" y1="671.0" x2="386.5" y2="680.0" stroke-width="0.9"/>
<path d="M328.5 691.5 Q332.5 686.5 336.5 685.5" stroke-width="0.9" fill="none" stroke="#4c4c4c"/>
<circle cx="338.2" cy="688.6" r="2.7" stroke-width="0.9" fill="none"/>
<line x1="334.5" y1="691.5" x2="334.5" y2="760.0" stroke-width="1.5"/>
<path d="M336.5 691.5 L337.5 757.5" stroke-width="0.9" fill="none" stroke="#4c4c4c"/>
<path d="M339.5 691.5 L341.5 746.5 Q341.5 752.5 340.5 756.5 H335.5" stroke-width="0.9" fill="none" stroke="#4c4c4c"/>
<path d="M338.5 691.5 L339.5 752.5" stroke-width="0.9" fill="none" stroke="#4c4c4c"/>
<line x1="328.6" y1="700.0" x2="333.4" y2="693.5" stroke-width="0.8"/>
<line x1="328.6" y1="707.0" x2="333.4" y2="700.5" stroke-width="0.8"/>
<line x1="328.6" y1="714.0" x2="333.4" y2="707.5" stroke-width="0.8"/>
<path d="M328.5 714.5 H334.5 M328.5 745.5 H334.5" stroke-width="0.9" fill="none" stroke="#4c4c4c"/>
<line x1="331.5" y1="714.0" x2="331.5" y2="745.0" stroke-width="0.7"/>
<path d="M323.5 747.5 Q326.5 744.5 329.5 748.5 Q332.5 751.5 332.5 757.5 M323.5 747.5 Q323.5 751.5 326.5 753.5 Q329.5 755.5 330.5 760.5" stroke-width="0.9" fill="none" stroke="#4c4c4c"/>
<line x1="323.5" y1="753.0" x2="323.5" y2="766.0" stroke-width="0.9"/>
<path d="M372.5 705.5 H349.5 Q343.5 705.5 343.5 711.5 V730.5 Q343.5 735.5 349.5 735.5 H372.5" stroke-width="0.9" fill="none" stroke="#4c4c4c"/>
<line x1="349.5" y1="705.5" x2="349.5" y2="735.5" stroke-width="0.9"/>
<line x1="351.5" y1="718.0" x2="351.5" y2="727.0" stroke-width="0.9"/>
<path d="M349.5 718.5 H351.5 M349.5 727.5 H351.5" stroke-width="0.9" fill="none" stroke="#4c4c4c"/>
<path d="M372.5 711.5 H378.5 M372.5 730.5 H378.5 M375.5 711.5 V730.5" stroke-width="0.9" fill="none" stroke="#4c4c4c"/>
<line x1="372.5" y1="705.5" x2="372.5" y2="735.5" stroke-width="0.9"/>
<line x1="328.0" y1="766.5" x2="378.5" y2="766.5" stroke-width="0.9"/>
<path d="M340.5 766.5 V775.5 Q340.5 779.5 344.5 779.5 H358.5 Q362.5 779.5 362.5 775.5 V766.5" stroke-width="0.9" fill="none" stroke="#4c4c4c"/>
<path d="M343.5 766.5 V773.5 Q343.5 776.5 346.5 776.5 H356.5 Q359.5 776.5 359.5 773.5 V766.5" stroke-width="0.9" fill="none" stroke="#4c4c4c"/>
<path d="M330.5 766.5 L322.5 777.5 L327.5 780.5 L335.5 767.5" stroke-width="0.9" fill="none" stroke="#4c4c4c"/>
<path d="M372.5 767.5 L380.5 780.5 L384.5 777.5 L377.5 766.5" stroke-width="0.9" fill="none" stroke="#4c4c4c"/>
<path d="M326.5 775.5 L329.5 777.5 M378.5 777.5 L381.5 775.5" stroke-width="0.9" fill="none" stroke="#4c4c4c"/>
</g>
<g id="v6">
<text x="574.0" y="614.4" font-size="13.6" text-anchor="middle" textLength="26.5" lengthAdjust="spacingAndGlyphs" fill="#2b2b2b" stroke="none">9.80</text>
<line x1="470.5" y1="612.0" x2="470.5" y2="720.0" stroke-width="0.9"/>
<line x1="676.5" y1="612.0" x2="676.5" y2="720.0" stroke-width="0.9"/>
<line x1="470.4" y1="617.5" x2="676.4" y2="617.5" stroke-width="0.9"/>
<polygon points="470.4,617.0 478.4,615.1 478.4,618.9" fill="#2b2b2b" stroke="none"/>
<polygon points="676.4,617.0 668.4,618.9 668.4,615.1" fill="#2b2b2b" stroke="none"/>
<text x="573.4" y="635.6" font-size="13.6" text-anchor="middle" textLength="26.5" lengthAdjust="spacingAndGlyphs" fill="#2b2b2b" stroke="none">2.60</text>
<line x1="546.5" y1="632.0" x2="546.5" y2="667.0" stroke-width="0.9"/>
<line x1="600.5" y1="632.0" x2="600.5" y2="667.0" stroke-width="0.9"/>
<line x1="546.4" y1="637.5" x2="600.7" y2="637.5" stroke-width="0.9"/>
<polygon points="546.4,637.0 554.4,635.1 554.4,638.9" fill="#2b2b2b" stroke="none"/>
<polygon points="600.7,637.0 592.7,638.9 592.7,635.1" fill="#2b2b2b" stroke="none"/>
<text x="506.0" y="651.0" font-size="13.6" textLength="26.5" lengthAdjust="spacingAndGlyphs" fill="#2b2b2b" stroke="none">0.65</text>
<line x1="503.0" y1="653.5" x2="546.4" y2="653.5" stroke-width="0.9"/>
<polygon points="546.4,653.0 538.4,654.9 538.4,651.1" fill="#2b2b2b" stroke="none"/>
<polygon points="560.0,653.0 568.0,651.1 568.0,654.9" fill="#2b2b2b" stroke="none"/>
<line x1="560.0" y1="653.5" x2="568.0" y2="653.5" stroke-width="0.9"/>
<line x1="579.0" y1="653.5" x2="596.4" y2="653.5" stroke-width="0.9"/>
<polygon points="596.4,653.0 588.4,654.9 588.4,651.1" fill="#2b2b2b" stroke="none"/>
<polygon points="605.0,653.0 613.0,651.1 613.0,654.9" fill="#2b2b2b" stroke="none"/>
<line x1="605.0" y1="653.5" x2="642.0" y2="653.5" stroke-width="0.9"/>
<text x="615.6" y="650.6" font-size="13.6" textLength="26.5" lengthAdjust="spacingAndGlyphs" fill="#2b2b2b" stroke="none">0.40</text>
<line x1="560.5" y1="647.0" x2="560.5" y2="667.0" stroke-width="0.9"/>
<line x1="596.5" y1="647.0" x2="596.5" y2="667.0" stroke-width="0.9"/>
<line x1="605.5" y1="647.0" x2="605.5" y2="667.0" stroke-width="0.9"/>
<line x1="546.5" y1="667.0" x2="546.5" y2="702.0" stroke-width="0.9" stroke-dasharray="5 2.5"/>
<line x1="560.5" y1="667.0" x2="560.5" y2="702.0" stroke-width="0.9" stroke-dasharray="5 2.5"/>
<line x1="573.5" y1="667.0" x2="573.5" y2="702.0" stroke-width="0.9" stroke-dasharray="5 2.5"/>
<line x1="587.5" y1="667.0" x2="587.5" y2="702.0" stroke-width="0.9" stroke-dasharray="5 2.5"/>
<line x1="600.5" y1="667.0" x2="600.5" y2="702.0" stroke-width="0.9" stroke-dasharray="5 2.5"/>
<line x1="573.5" y1="656.0" x2="573.5" y2="665.0" stroke-width="0.9"/>
<line x1="587.5" y1="656.0" x2="587.5" y2="665.0" stroke-width="0.9"/>
<rect x="542.2" y="669.6" width="8.4" height="28.8" fill="url(#ph2)" stroke="#2b2b2b" stroke-width="0.9"/>
<rect x="555.8" y="669.6" width="8.4" height="28.8" fill="url(#ph2)" stroke="#2b2b2b" stroke-width="0.9"/>
<rect x="569.4" y="669.6" width="8.4" height="28.8" fill="url(#ph2)" stroke="#2b2b2b" stroke-width="0.9"/>
<rect x="583.0" y="669.6" width="8.4" height="28.8" fill="url(#ph2)" stroke="#2b2b2b" stroke-width="0.9"/>
<rect x="596.6" y="669.6" width="8.4" height="28.8" fill="url(#ph2)" stroke="#2b2b2b" stroke-width="0.9"/>
<text x="429.0" y="674.8" font-size="13" textLength="7.8" lengthAdjust="spacingAndGlyphs" fill="#2b2b2b" stroke="none">Φ</text>
<text x="440.0" y="674.4" font-size="13.6" textLength="26.5" lengthAdjust="spacingAndGlyphs" fill="#2b2b2b" stroke="none">0.55</text>
<path d="M425.5 677.5 H503.5 L527.5 692.5" stroke-width="0.9" fill="none" stroke="#4c4c4c"/>
<polygon points="527.3,692.0 520.6,689.6 522.1,687.0" fill="#2b2b2b" stroke="none"/>
<circle cx="532.0" cy="695.4" r="6.1" stroke-width="0.9" fill="none"/>
<circle cx="616.0" cy="695.4" r="6.1" stroke-width="0.9" fill="none"/>
<line x1="519.0" y1="695.5" x2="539.0" y2="695.5" stroke-width="0.9"/>
<line x1="532.5" y1="688.0" x2="532.5" y2="716.0" stroke-width="0.9"/>
<line x1="609.0" y1="695.5" x2="623.0" y2="695.5" stroke-width="0.9"/>
<line x1="616.5" y1="688.0" x2="616.5" y2="716.0" stroke-width="0.9"/>
<text x="507.4" y="672.0" font-size="12.5" textLength="22.6" lengthAdjust="spacingAndGlyphs" fill="#2b2b2b" stroke="none">pin1</text>
<line x1="505.0" y1="674.5" x2="542.2" y2="674.5" stroke-width="0.9"/>
<polygon points="542.2,674.4 535.2,675.9 535.2,672.9" fill="#2b2b2b" stroke="none"/>
<text x="632.0" y="666.0" font-size="12.5" textLength="22.6" lengthAdjust="spacingAndGlyphs" fill="#2b2b2b" stroke="none">pin5</text>
<path d="M634.5 667.5 L621.5 675.5 H605.5" stroke-width="0.9" fill="none" stroke="#4c4c4c"/>
<polygon points="605.6,675.0 612.6,673.5 612.6,676.5" fill="#2b2b2b" stroke="none"/>
<line x1="607.0" y1="670.5" x2="696.0" y2="670.5" stroke-width="0.9"/>
<line x1="667.5" y1="670.0" x2="667.5" y2="698.4" stroke-width="0.9"/>
<polygon points="667.6,670.0 669.5,678.0 665.8,678.0" fill="#2b2b2b" stroke="none"/>
<polygon points="667.6,698.4 665.8,690.4 669.5,690.4" fill="#2b2b2b" stroke="none"/>
<line x1="610.0" y1="698.5" x2="671.0" y2="698.5" stroke-width="0.9"/>
<text x="664.9" y="684.0" font-size="13.6" text-anchor="middle" textLength="26.5" lengthAdjust="spacingAndGlyphs" transform="rotate(-90 664.9 684.0)" fill="#2b2b2b" stroke="none">1.35</text>
<line x1="691.5" y1="670.0" x2="691.5" y2="740.0" stroke-width="0.9"/>
<polygon points="691.6,670.0 693.5,678.0 689.8,678.0" fill="#2b2b2b" stroke="none"/>
<polygon points="691.6,740.0 689.8,732.0 693.5,732.0" fill="#2b2b2b" stroke="none"/>
<line x1="634.0" y1="740.5" x2="696.0" y2="740.5" stroke-width="0.9"/>
<text x="688.9" y="705.0" font-size="13.6" text-anchor="middle" textLength="26.5" lengthAdjust="spacingAndGlyphs" transform="rotate(-90 688.9 705.0)" fill="#2b2b2b" stroke="none">3.35</text>
<polygon points="691.6,770.6 693.5,778.6 689.8,778.6" fill="#2b2b2b" stroke="none"/>
<line x1="691.5" y1="740.0" x2="691.5" y2="787.0" stroke-width="0.9"/>
<text x="688.9" y="756.0" font-size="13.6" text-anchor="middle" textLength="26.5" lengthAdjust="spacingAndGlyphs" transform="rotate(-90 688.9 756.0)" fill="#2b2b2b" stroke="none">1.45</text>
<line x1="455.0" y1="770.5" x2="696.0" y2="770.5" stroke-width="0.9"/>
<line x1="444.0" y1="720.5" x2="470.0" y2="720.5" stroke-width="0.9"/>
<line x1="444.0" y1="760.5" x2="470.0" y2="760.5" stroke-width="0.9"/>
<line x1="452.5" y1="704.0" x2="452.5" y2="776.0" stroke-width="0.9"/>
<polygon points="452.0,720.4 450.1,712.4 453.9,712.4" fill="#2b2b2b" stroke="none"/>
<polygon points="452.0,760.4 453.9,768.4 450.1,768.4" fill="#2b2b2b" stroke="none"/>
<text x="449.9" y="743.0" font-size="13.6" text-anchor="middle" textLength="26.5" lengthAdjust="spacingAndGlyphs" transform="rotate(-90 449.9 743.0)" fill="#2b2b2b" stroke="none">1.90</text>
<rect x="470.4" y="720.4" width="38.2" height="40" fill="url(#ph)" stroke="#2b2b2b" stroke-width="0.9"/>
<rect x="638.6" y="720.4" width="37.8" height="40" fill="url(#ph)" stroke="#2b2b2b" stroke-width="0.9"/>
<path d="M504.5 731.5 H484.5 V734.5 Q487.5 735.5 487.5 740.5 Q487.5 745.5 484.5 746.5 V749.5 H504.5" stroke-width="0.9" fill="none" stroke-dasharray="3.5 2" stroke="#555"/>
<path d="M642.5 731.5 H662.5 V734.5 Q659.5 735.5 659.5 740.5 Q659.5 745.5 662.5 746.5 V749.5 H642.5" stroke-width="0.9" fill="none" stroke-dasharray="3.5 2" stroke="#555"/>
<line x1="478.0" y1="740.5" x2="510.0" y2="740.5" stroke-width="0.9"/>
<line x1="636.0" y1="740.5" x2="668.0" y2="740.5" stroke-width="0.9"/>
<path d="M496 785 V689 Q496 681 504 680.5" stroke-width="0.9" fill="none" stroke-dasharray="10 3 2.5 3" stroke="#4c4c4c"/>
<path d="M504.5 796.5 V684.5" stroke-width="0.9" fill="none" stroke-dasharray="10 3 2.5 3" stroke="#4c4c4c"/>
<path d="M497 688 Q500.5 690.5 503.8 686.5 V681.5" stroke-width="0.8" fill="none" stroke="#4c4c4c"/>
<line x1="504.0" y1="680.5" x2="642.0" y2="680.5" stroke-width="0.9" stroke-dasharray="10 3 2.5 3"/>
<path d="M651.4 785 V689 Q651.4 681 643 680.5" stroke-width="0.9" fill="none" stroke="#4c4c4c"/>
<path d="M642.5 796.5 V684.5" stroke-width="0.9" fill="none" stroke-dasharray="10 3 2.5 3" stroke="#4c4c4c"/>
<path d="M650.4 688 Q647 690.5 643.6 686.5 V681.5" stroke-width="0.8" fill="none" stroke="#4c4c4c"/>
<line x1="504.0" y1="785.5" x2="642.0" y2="785.5" stroke-width="0.9" stroke-dasharray="10 3 2.5 3"/>
<path d="M504.5 792.5 Q504.5 796.5 508.5 796.5 H638.5 Q642.5 796.5 642.5 792.5" stroke-width="0.9" fill="none" stroke-dasharray="10 3 2.5 3" stroke="#4c4c4c"/>
<line x1="508.0" y1="798.5" x2="638.0" y2="798.5" stroke-width="0.9" stroke-dasharray="10 3 2.5 3"/>
<path d="M501 785.5 L492.7 799.2 L488.3 795.8 L495.6 785.5" stroke-width="0.9" fill="none" stroke="#4c4c4c"/>
<path d="M646 785.5 L654.3 799.2 L658.7 795.8 L651.4 785.5" stroke-width="0.9" fill="none" stroke="#4c4c4c"/>
<rect x="528.5" y="720.5" width="40.0" height="40.0" rx="0" stroke-width="0.9" fill="none"/>
<rect x="578.5" y="720.5" width="40.0" height="40.0" rx="0" stroke-width="0.9" fill="none"/>
<path d="M516.5 774.5 V738.5 Q516.5 734.5 520.5 734.5 H527.5 Q531.5 734.5 531.5 738.5 V774.5" stroke-width="0.9" fill="none" stroke-dasharray="12 2 2 2" stroke="#4c4c4c"/>
<line x1="516.6" y1="763.5" x2="531.0" y2="763.5" stroke-width="0.8"/>
<line x1="516.6" y1="765.5" x2="531.0" y2="765.5" stroke-width="0.8"/>
<line x1="516.6" y1="768.5" x2="531.0" y2="768.5" stroke-width="0.8"/>
<line x1="516.6" y1="770.5" x2="531.0" y2="770.5" stroke-width="0.8"/>
<line x1="516.6" y1="772.5" x2="531.0" y2="772.5" stroke-width="0.8"/>
<line x1="516.6" y1="774.5" x2="531.0" y2="774.5" stroke-width="0.8"/>
<path d="M616.5 774.5 V738.5 Q616.5 734.5 619.5 734.5 H626.5 Q630.5 734.5 630.5 738.5 V774.5" stroke-width="0.9" fill="none" stroke-dasharray="12 2 2 2" stroke="#4c4c4c"/>
<line x1="616.0" y1="763.5" x2="630.4" y2="763.5" stroke-width="0.8"/>
<line x1="616.0" y1="765.5" x2="630.4" y2="765.5" stroke-width="0.8"/>
<line x1="616.0" y1="768.5" x2="630.4" y2="768.5" stroke-width="0.8"/>
<line x1="616.0" y1="770.5" x2="630.4" y2="770.5" stroke-width="0.8"/>
<line x1="616.0" y1="772.5" x2="630.4" y2="772.5" stroke-width="0.8"/>
<line x1="616.0" y1="774.5" x2="630.4" y2="774.5" stroke-width="0.8"/>
<line x1="523.5" y1="695.4" x2="523.5" y2="739.6" stroke-width="0.9"/>
<polygon points="523.0,695.4 524.9,703.4 521.1,703.4" fill="#2b2b2b" stroke="none"/>
<polygon points="523.0,739.6 521.1,731.6 524.9,731.6" fill="#2b2b2b" stroke="none"/>
<line x1="510.0" y1="740.5" x2="523.0" y2="740.5" stroke-width="0.9"/>
<text x="521.9" y="718.0" font-size="13.6" text-anchor="middle" textLength="26.5" lengthAdjust="spacingAndGlyphs" transform="rotate(-90 521.9 718.0)" fill="#2b2b2b" stroke="none">2.15</text>
<line x1="532.0" y1="713.5" x2="616.0" y2="713.5" stroke-width="0.9"/>
<polygon points="532.0,713.0 540.0,711.1 540.0,714.9" fill="#2b2b2b" stroke="none"/>
<polygon points="616.0,713.0 608.0,714.9 608.0,711.1" fill="#2b2b2b" stroke="none"/>
<text x="574.4" y="712.0" font-size="13.6" text-anchor="middle" textLength="26.5" lengthAdjust="spacingAndGlyphs" fill="#2b2b2b" stroke="none">4.00</text>
<line x1="573.5" y1="703.0" x2="573.5" y2="812.0" stroke-width="0.9" stroke-dasharray="10 3 2.5 3"/>
<line x1="568.5" y1="760.0" x2="568.5" y2="818.0" stroke-width="0.9"/>
<line x1="578.5" y1="760.0" x2="578.5" y2="818.0" stroke-width="0.9"/>
<line x1="555.0" y1="814.5" x2="568.7" y2="814.5" stroke-width="0.9"/>
<polygon points="568.7,814.4 560.7,816.2 560.7,812.5" fill="#2b2b2b" stroke="none"/>
<polygon points="578.5,814.4 586.5,812.5 586.5,816.2" fill="#2b2b2b" stroke="none"/>
<line x1="578.5" y1="814.5" x2="615.4" y2="814.5" stroke-width="0.9"/>
<text x="589.0" y="812.6" font-size="13.6" textLength="26.5" lengthAdjust="spacingAndGlyphs" fill="#2b2b2b" stroke="none">0.50</text>
<line x1="528.5" y1="760.0" x2="528.5" y2="839.0" stroke-width="0.9"/>
<line x1="618.5" y1="760.0" x2="618.5" y2="839.0" stroke-width="0.9"/>
<line x1="528.4" y1="833.5" x2="618.6" y2="833.5" stroke-width="0.9"/>
<polygon points="528.4,833.6 536.4,831.8 536.4,835.5" fill="#2b2b2b" stroke="none"/>
<polygon points="618.6,833.6 610.6,835.5 610.6,831.8" fill="#2b2b2b" stroke="none"/>
<text x="576.5" y="831.7" font-size="13.6" text-anchor="middle" textLength="26.5" lengthAdjust="spacingAndGlyphs" fill="#2b2b2b" stroke="none">4.30</text>
<text x="532.6" y="865.3" font-size="13.5" textLength="86.0" lengthAdjust="spacingAndGlyphs" fill="#2b2b2b" stroke="none">PCB LAYOUT</text>
<text x="393.6" y="792.2" font-size="12.5" textLength="63.6" lengthAdjust="spacingAndGlyphs" fill="#2b2b2b" stroke="none">PCB EDGE</text>
<path d="M393.5 794.5 H463.5 L471.5 771.5" stroke-width="0.9" fill="none" stroke="#4c4c4c"/>
<polygon points="471.8,770.8 470.5,778.9 467.5,777.7" fill="#2b2b2b" stroke="none"/>
</g>
<g id="v1">
<text x="133.3" y="327.8" font-size="13.6" text-anchor="middle" textLength="26.5" lengthAdjust="spacingAndGlyphs" fill="#2b2b2b" stroke="none">2.60</text>
<line x1="106.3" y1="329.5" x2="160.6" y2="329.5" stroke-width="0.9"/>
<polygon points="106.3,329.6 114.3,327.8 114.3,331.5" fill="#2b2b2b" stroke="none"/>
<polygon points="160.6,329.6 152.6,331.5 152.6,327.8" fill="#2b2b2b" stroke="none"/>
<line x1="106.5" y1="324.7" x2="106.5" y2="369.0" stroke-width="0.9"/>
<line x1="160.5" y1="324.7" x2="160.5" y2="369.0" stroke-width="0.9"/>
<text x="66.6" y="347.6" font-size="13.6" textLength="26.5" lengthAdjust="spacingAndGlyphs" fill="#2b2b2b" stroke="none">0.65</text>
<line x1="65.6" y1="349.5" x2="106.3" y2="349.5" stroke-width="0.9"/>
<polygon points="106.3,349.7 98.3,351.6 98.3,347.8" fill="#2b2b2b" stroke="none"/>
<polygon points="119.9,349.7 127.9,347.8 127.9,351.6" fill="#2b2b2b" stroke="none"/>
<line x1="119.9" y1="349.5" x2="133.5" y2="349.5" stroke-width="0.9"/>
<line x1="143.5" y1="349.5" x2="157.9" y2="349.5" stroke-width="0.9"/>
<polygon points="157.9,349.7 149.9,351.6 149.9,347.8" fill="#2b2b2b" stroke="none"/>
<polygon points="163.3,349.7 171.3,347.8 171.3,351.6" fill="#2b2b2b" stroke="none"/>
<line x1="163.3" y1="349.5" x2="203.2" y2="349.5" stroke-width="0.9"/>
<text x="174.8" y="347.6" font-size="13.6" textLength="26.5" lengthAdjust="spacingAndGlyphs" fill="#2b2b2b" stroke="none">0.25</text>
<line x1="119.5" y1="345.0" x2="119.5" y2="369.0" stroke-width="0.9"/>
<line x1="157.5" y1="345.0" x2="157.5" y2="368.0" stroke-width="0.9"/>
<line x1="163.5" y1="345.0" x2="163.5" y2="368.0" stroke-width="0.9"/>
<line x1="106.5" y1="369.0" x2="106.5" y2="388.0" stroke-width="0.9" stroke-dasharray="6 2 2 2"/>
<line x1="119.5" y1="369.0" x2="119.5" y2="388.0" stroke-width="0.9" stroke-dasharray="6 2 2 2"/>
<line x1="160.5" y1="369.0" x2="160.5" y2="388.0" stroke-width="0.9" stroke-dasharray="6 2 2 2"/>
<line x1="133.5" y1="354.0" x2="133.5" y2="492.5" stroke-width="0.9" stroke-dasharray="9 3 3 3"/>
<text x="28.4" y="367.0" font-size="13" textLength="7.8" lengthAdjust="spacingAndGlyphs" fill="#2b2b2b" stroke="none">Φ</text>
<text x="38.6" y="366.8" font-size="13.6" textLength="26.5" lengthAdjust="spacingAndGlyphs" fill="#2b2b2b" stroke="none">0.45</text>
<path d="M26.5 367.5 H69.5 L108.5 397.5" stroke-width="0.9" fill="none" stroke="#4c4c4c"/>
<polygon points="87.6,381.8 81.1,378.8 82.9,376.4" fill="#2b2b2b" stroke="none"/>
<polygon points="94.6,387.1 101.1,390.1 99.3,392.5" fill="#2b2b2b" stroke="none"/>
<circle cx="91.3" cy="384.4" r="4.7" stroke-width="0.9" fill="none"/>
<circle cx="175.6" cy="384.4" r="4.7" stroke-width="0.9" fill="none"/>
<line x1="85.0" y1="384.5" x2="97.5" y2="384.5" stroke-width="0.9"/>
<line x1="91.5" y1="378.0" x2="91.5" y2="391.0" stroke-width="0.9"/>
<line x1="169.5" y1="384.5" x2="182.0" y2="384.5" stroke-width="0.9"/>
<line x1="175.5" y1="378.0" x2="175.5" y2="391.0" stroke-width="0.9"/>
<line x1="23.0" y1="384.5" x2="87.0" y2="384.5" stroke-width="0.9"/>
<line x1="29.5" y1="384.4" x2="29.5" y2="428.7" stroke-width="0.9"/>
<polygon points="29.8,384.4 31.7,392.4 27.9,392.4" fill="#2b2b2b" stroke="none"/>
<polygon points="29.8,428.7 27.9,420.7 31.7,420.7" fill="#2b2b2b" stroke="none"/>
<line x1="23.0" y1="428.5" x2="31.5" y2="428.5" stroke-width="0.9"/>
<line x1="37.0" y1="428.5" x2="72.5" y2="428.5" stroke-width="0.9" stroke-dasharray="9 3"/>
<text x="25.5" y="407.0" font-size="13.6" text-anchor="middle" textLength="26.5" lengthAdjust="spacingAndGlyphs" transform="rotate(-90 25.5 407.0)" fill="#2b2b2b" stroke="none">2.15</text>
<line x1="91.6" y1="418.5" x2="175.6" y2="418.5" stroke-width="0.9"/>
<polygon points="91.6,418.3 99.6,416.4 99.6,420.2" fill="#2b2b2b" stroke="none"/>
<polygon points="175.6,418.3 167.6,420.2 167.6,416.4" fill="#2b2b2b" stroke="none"/>
<line x1="91.5" y1="392.0" x2="91.5" y2="419.6" stroke-width="0.9"/>
<line x1="175.5" y1="392.0" x2="175.5" y2="419.6" stroke-width="0.9"/>
<text x="119.8" y="417.3" font-size="13.6" textLength="26.5" lengthAdjust="spacingAndGlyphs" fill="#2b2b2b" stroke="none">4.00</text>
<line x1="234.5" y1="382.5" x2="234.5" y2="455.6" stroke-width="0.9"/>
<polygon points="234.2,419.7 232.3,411.7 236.0,411.7" fill="#2b2b2b" stroke="none"/>
<text x="232.6" y="396.0" font-size="13.6" text-anchor="middle" textLength="26.5" lengthAdjust="spacingAndGlyphs" transform="rotate(-90 232.6 396.0)" fill="#2b2b2b" stroke="none">0.90</text>
<line x1="210.0" y1="419.5" x2="240.5" y2="419.5" stroke-width="0.9"/>
<polygon points="234.2,438.6 236.0,446.6 232.3,446.6" fill="#2b2b2b" stroke="none"/>
<line x1="194.4" y1="428.5" x2="260.0" y2="428.5" stroke-width="0.9"/>
<line x1="211.0" y1="474.5" x2="260.0" y2="474.5" stroke-width="0.9"/>
<line x1="254.5" y1="428.7" x2="254.5" y2="474.2" stroke-width="0.9"/>
<polygon points="254.1,428.7 255.9,436.7 252.2,436.7" fill="#2b2b2b" stroke="none"/>
<polygon points="254.1,474.2 252.2,466.2 255.9,466.2" fill="#2b2b2b" stroke="none"/>
<text x="251.2" y="450.4" font-size="13.6" text-anchor="middle" textLength="26.5" lengthAdjust="spacingAndGlyphs" transform="rotate(-90 251.2 450.4)" fill="#2b2b2b" stroke="none">2.15</text>
<line x1="211.0" y1="438.5" x2="240.5" y2="438.5" stroke-width="0.9"/>
<line x1="48.5" y1="490.5" x2="48.5" y2="524.8" stroke-width="0.9"/>
<line x1="218.5" y1="490.5" x2="218.5" y2="524.8" stroke-width="0.9"/>
<line x1="48.4" y1="517.5" x2="218.5" y2="517.5" stroke-width="0.9"/>
<polygon points="48.4,517.5 56.4,515.6 56.4,519.4" fill="#2b2b2b" stroke="none"/>
<polygon points="218.5,517.5 210.5,519.4 210.5,515.6" fill="#2b2b2b" stroke="none"/>
<text x="119.8" y="517.0" font-size="13.6" textLength="26.5" lengthAdjust="spacingAndGlyphs" fill="#2b2b2b" stroke="none">8.10</text>
<path d="M56.5 422.5 V375.5 Q56.5 369.5 61.5 369.5 H83.5 V371.5" stroke-width="0.9" fill="none" stroke="#4c4c4c"/>
<path d="M61.5 371.5 V390.5 M68.5 371.5 V390.5 M61.5 371.5 H83.5" stroke-width="0.9" fill="none" stroke="#4c4c4c"/>
<path d="M56.5 390.5 H85.5 Q88.5 390.5 88.5 394.5 Q89.5 401.5 95.5 401.5 H172.5 Q178.5 401.5 178.5 394.5 Q179.5 390.5 181.5 390.5 H211.5" stroke-width="0.9" fill="none" stroke="#4c4c4c"/>
<path d="M78.5 390.5 V413.5 Q78.5 415.5 75.5 415.5 H56.5" stroke-width="0.9" fill="none" stroke="#4c4c4c"/>
<line x1="61.5" y1="390.3" x2="61.5" y2="418.5" stroke-width="0.9"/>
<line x1="64.5" y1="415.7" x2="64.5" y2="418.5" stroke-width="0.9"/>
<line x1="56.4" y1="418.5" x2="64.5" y2="418.5" stroke-width="0.9"/>
<path d="M211.5 422.5 V375.5 Q211.5 369.5 205.5 369.5 H183.5 V371.5" stroke-width="0.9" fill="none" stroke="#4c4c4c"/>
<path d="M205.5 371.5 V390.5 M199.5 371.5 V390.5 M205.5 371.5 H183.5" stroke-width="0.9" fill="none" stroke="#4c4c4c"/>
<path d="M188.5 390.5 V413.5 Q188.5 415.5 191.5 415.5 H211.5" stroke-width="0.9" fill="none" stroke="#4c4c4c"/>
<line x1="205.5" y1="390.3" x2="205.5" y2="418.5" stroke-width="0.9"/>
<line x1="203.5" y1="415.7" x2="203.5" y2="418.5" stroke-width="0.9"/>
<line x1="203.0" y1="418.5" x2="211.0" y2="418.5" stroke-width="0.9"/>
<path d="M83.5 371.5 H97.5 V369.5 H170.5 V371.5 H183.5" stroke-width="0.9" fill="none" stroke="#4c4c4c"/>
<line x1="97.5" y1="371.2" x2="97.5" y2="389.3" stroke-width="0.9"/>
<line x1="170.5" y1="371.2" x2="170.5" y2="389.3" stroke-width="0.9"/>
<line x1="97.3" y1="389.5" x2="170.0" y2="389.5" stroke-width="0.9"/>
<line x1="91.0" y1="393.5" x2="176.0" y2="393.5" stroke-width="0.9"/>
<path d="M103.5 371.5 V385.5 H109.5 V371.5" stroke-width="0.9" fill="none" stroke="#4c4c4c"/>
<line x1="103.2" y1="377.5" x2="109.4" y2="377.5" stroke-width="0.9"/>
<path d="M116.5 371.5 V385.5 H123.5 V371.5" stroke-width="0.9" fill="none" stroke="#4c4c4c"/>
<line x1="116.8" y1="377.5" x2="123.0" y2="377.5" stroke-width="0.9"/>
<path d="M130.5 371.5 V385.5 H136.5 V371.5" stroke-width="0.9" fill="none" stroke="#4c4c4c"/>
<line x1="130.4" y1="377.5" x2="136.6" y2="377.5" stroke-width="0.9"/>
<path d="M144.5 371.5 V385.5 H150.5 V371.5" stroke-width="0.9" fill="none" stroke="#4c4c4c"/>
<line x1="144.0" y1="377.5" x2="150.2" y2="377.5" stroke-width="0.9"/>
<path d="M157.5 371.5 V385.5 H163.5 V371.5" stroke-width="0.9" fill="none" stroke="#4c4c4c"/>
<line x1="157.5" y1="377.5" x2="163.7" y2="377.5" stroke-width="0.9"/>
<path d="M56.4 419.7 H41.2 V423.5 Q45.5 425 45.5 429.3 Q45.5 433.5 41.2 435 V438.6 H56.4" stroke-width="0.9" fill="none" stroke="#4c4c4c"/>
<path d="M211 419.7 H225.5 V423.5 Q221.2 425 221.2 429.3 Q221.2 433.5 225.5 435 V438.6 H211" stroke-width="0.9" fill="none" stroke="#4c4c4c"/>
<line x1="56.5" y1="418.5" x2="56.5" y2="474.5" stroke-width="0.9"/>
<line x1="59.5" y1="419.7" x2="59.5" y2="439.0" stroke-width="0.9"/>
<line x1="211.5" y1="418.5" x2="211.5" y2="474.5" stroke-width="0.9"/>
<line x1="208.5" y1="419.7" x2="208.5" y2="439.0" stroke-width="0.9"/>
<path d="M56.5 439.5 H76.5 Q79.5 439.5 79.5 442.5 V481.5 Q79.5 483.5 82.5 483.5" stroke-width="0.9" fill="none" stroke="#4c4c4c"/>
<path d="M75.5 439.5 L78.5 444.5" stroke-width="0.9" fill="none" stroke="#4c4c4c"/>
<line x1="63.5" y1="439.0" x2="63.5" y2="474.2" stroke-width="0.9"/>
<path d="M56.5 444.5 H60.5 V439.5" stroke-width="0.9" fill="none" stroke="#4c4c4c"/>
<path d="M211.5 439.5 H191.5 Q189.5 439.5 189.5 442.5 V481.5 Q189.5 483.5 185.5 483.5" stroke-width="0.9" fill="none" stroke="#4c4c4c"/>
<path d="M192.5 439.5 L189.5 444.5" stroke-width="0.9" fill="none" stroke="#4c4c4c"/>
<line x1="203.5" y1="439.0" x2="203.5" y2="474.2" stroke-width="0.9"/>
<path d="M211.5 444.5 H205.5 V439.5" stroke-width="0.9" fill="none" stroke="#4c4c4c"/>
<line x1="56.4" y1="474.5" x2="211.0" y2="474.5" stroke-width="0.9"/>
<line x1="82.5" y1="483.5" x2="185.8" y2="483.5" stroke-width="0.9"/>
<path d="M63.5 474.5 V484.5 Q63.5 487.5 66.5 487.5 H201.5 Q203.5 487.5 203.5 484.5 V474.5" stroke-width="0.9" fill="none" stroke="#4c4c4c"/>
<line x1="63.0" y1="477.5" x2="79.3" y2="477.5" stroke-width="0.9"/>
<line x1="189.0" y1="477.5" x2="203.3" y2="477.5" stroke-width="0.9"/>
<path d="M56 475 L49.7 484.7 L53.4 487.2 L60.6 475.5 M52.6 482.4 L56.2 484" stroke-width="0.9" fill="none" stroke="#4c4c4c"/>
<path d="M206 475.5 L213.2 487.2 L216.9 484.7 L210.6 475 M210.4 484 L214 482.4" stroke-width="0.9" fill="none" stroke="#4c4c4c"/>
<path d="M133.5 420.5 V425.5 Q133.5 427.5 137.5 427.5 H142.5 Q146.5 427.5 146.5 431.5 V454.5 Q146.5 457.5 142.5 457.5 H137.5 Q133.5 457.5 133.5 460.5 V486.5" stroke-width="0.9" fill="none" stroke="#4c4c4c"/>
<rect x="135.5" y="437.5" width="8.0" height="14.0" rx="0" stroke-width="0.9" fill="none"/>
</g>
</svg>
</body></html>
